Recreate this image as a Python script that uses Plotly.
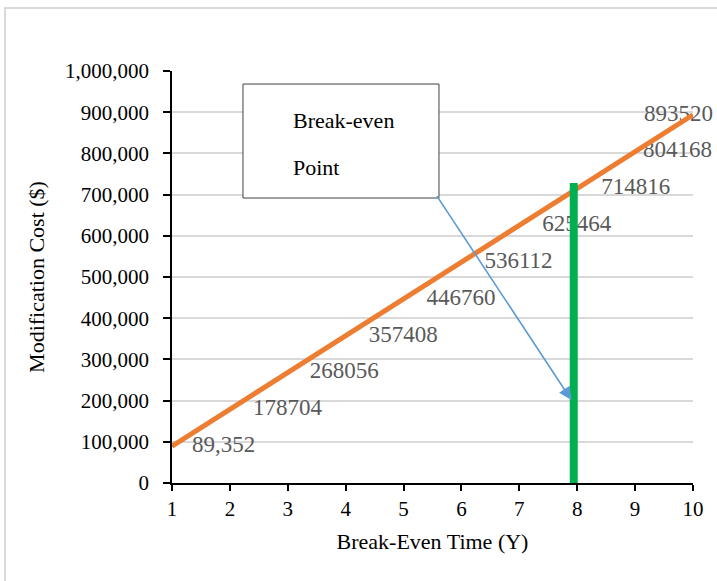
import plotly.graph_objects as go

# Cumulative modification cost by year
years = [1, 2, 3, 4, 5, 6, 7, 8, 9, 10]
costs = [89352, 178704, 268056, 357408, 446760, 536112, 625464, 714816, 804168, 893520]

# Break-even marker (vertical bar)
breakeven_x = [7.94, 7.94]
breakeven_y = [0, 728000]

# Horizontal label nudges in pixels (right of each point)
label_dx = [20, 23, 22, 23, 23, 23, 23, 24, 8, -49]

# Annotation box and arrow (data coordinates)
box_x = [2.226, 5.612]
box_y = [691700, 968400]
box_lines = ["Break-even", "Point"]
arrow_tail = (5.56, 700000)
arrow_head = (7.90, 201500)

FONT = "Liberation Serif"
PX_PER_X = 521 / 9.0

labels = [f"{v:,}" if i == 0 else str(v) for i, v in enumerate(costs)]
label_x = [x + d / PX_PER_X for x, d in zip(years, label_dx)]

fig = go.Figure()

# data labels (underneath the lines)
fig.add_trace(go.Scatter(
    x=label_x, y=costs, mode="text", text=labels,
    textposition="middle right",
    textfont=dict(family=FONT, size=23, color="#595959"),
    cliponaxis=False, hoverinfo="skip", showlegend=False,
))

fig.add_trace(go.Scatter(
    x=years, y=costs, mode="lines",
    line=dict(color="#ED7D31", width=5),
    showlegend=False,
))

fig.add_trace(go.Scatter(
    x=breakeven_x, y=breakeven_y, mode="lines",
    line=dict(color="#00B050", width=8),
    showlegend=False,
))

# text box
fig.add_shape(type="rect", xref="x", yref="y",
              x0=box_x[0], x1=box_x[1], y0=box_y[0], y1=box_y[1],
              line=dict(color="#404040", width=1), fillcolor="white", layer="above")
fig.add_annotation(x=3.056, y=881000, text=box_lines[0], showarrow=False,
                   xanchor="left", yanchor="middle",
                   font=dict(family=FONT, size=22, color="black"))
fig.add_annotation(x=3.056, y=767000, text=box_lines[1], showarrow=False,
                   xanchor="left", yanchor="middle",
                   font=dict(family=FONT, size=22, color="black"))

# arrow from box to break-even bar
fig.add_annotation(x=arrow_head[0], y=arrow_head[1], ax=arrow_tail[0], ay=arrow_tail[1],
                   xref="x", yref="y", axref="x", ayref="y",
                   text="", showarrow=True, arrowhead=2, arrowsize=1.6,
                   arrowwidth=1.6, arrowcolor="#5B9BD5")

# outer chart-area frame
fig.add_shape(type="rect", xref="paper", yref="paper",
              x0=-0.3205, x1=1.2, y0=-0.5, y1=1.153,
              line=dict(color="#D9D9D9", width=2), fillcolor="rgba(0,0,0,0)",
              layer="below")

fig.update_layout(
    width=717, height=581,
    margin=dict(l=172, r=24, t=71, b=98),
    paper_bgcolor="white", plot_bgcolor="white",
    font=dict(family=FONT, size=21, color="black"),
    hovermode=False,
)

fig.update_xaxes(
    range=[1, 10], tickvals=years, ticktext=[str(y) for y in years],
    showgrid=False, zeroline=False,
    showline=True, linecolor="black", linewidth=1.5,
    ticks="outside", ticklen=6, tickwidth=1.5, tickcolor="black",
    ticklabelstandoff=0,
    tickfont=dict(family=FONT, size=21, color="black"),
    title=dict(text="Break-Even Time (Y)", font=dict(family=FONT, size=22, color="black"), standoff=14),
)
fig.update_yaxes(
    range=[0, 1000000], dtick=100000, tickformat=",",
    showgrid=True, gridcolor="#D9D9D9", gridwidth=1.5, zeroline=False,
    showline=True, linecolor="black", linewidth=1.5,
    ticks="outside", ticklen=7, tickwidth=1.5, tickcolor="black",
    ticklabelstandoff=10,
    tickfont=dict(family=FONT, size=21, color="black"),
    title=dict(text="Modification Cost ($)", font=dict(family=FONT, size=22, color="black"), standoff=14),
)

fig.write_html("out.html")
